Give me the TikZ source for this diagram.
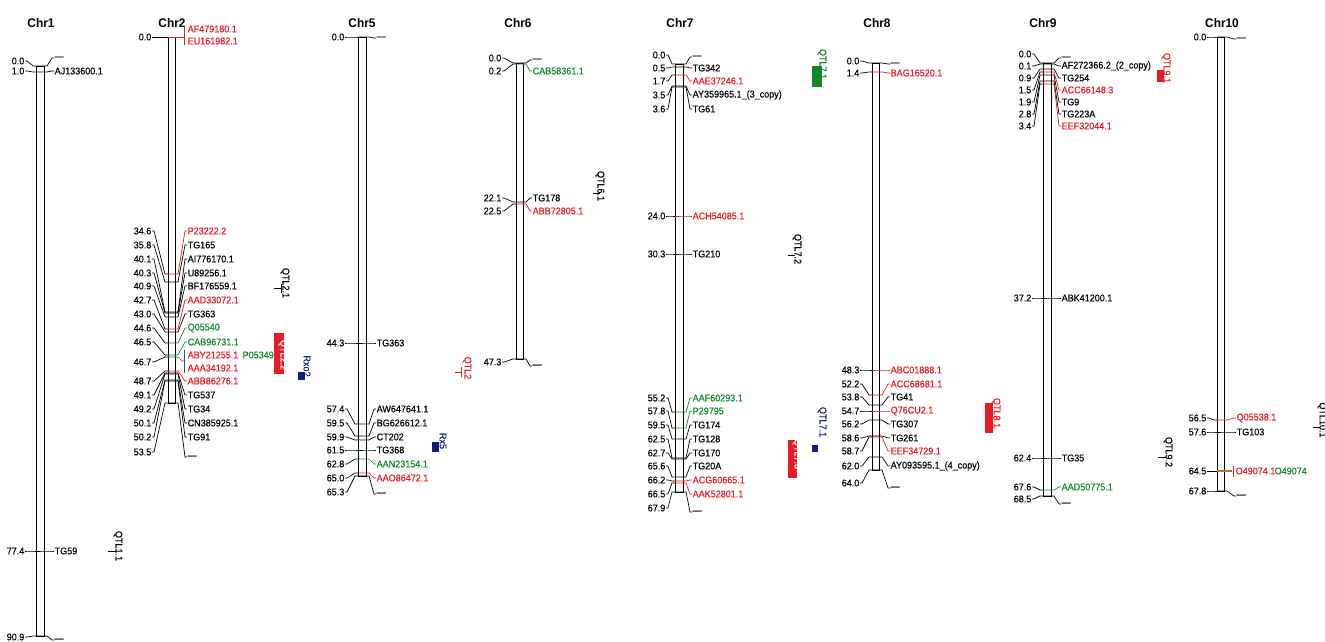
\documentclass[tikz,border=0pt]{standalone}
\usepackage{fontspec}
\setmainfont{Liberation Sans}
\newfontfamily\lblfam{Liberation Sans}[FakeBold=0.35,FakeStretch=0.92]
\newfontfamily\ttlfam{Liberation Sans Bold}[FakeStretch=0.95]
\definecolor{mred}{RGB}{232,28,36}
\definecolor{mgreen}{RGB}{16,135,40}
\definecolor{mblue}{RGB}{20,30,120}
\definecolor{mbrown}{RGB}{180,115,40}
\newcommand\lblfont{\lblfam\fontsize{9.8}{9.8}\selectfont}
\newcommand\mk[7]{%
  \node[posl] (p#1) at (\lx,#2) {#4};
  \node[nm,text=#6] (n#1) at (\nx,#7) {#5};
  \draw[con] (p#1.east) -- ++(2,0) -- (\bl-3,#3) -- (\bl,#3);
  \draw[con,draw=#6] (\bl,#3) -- (\br,#3) -- (\br+3,#3) -- ([xshift=-2pt]n#1.west) -- (n#1.west);
}
\begin{document}
\begin{tikzpicture}[x=1pt,y=-1pt,
  posl/.style={font=\lblfont,inner sep=0.5pt,anchor=east},
  nm/.style={font=\lblfont,inner sep=0.5pt,anchor=west},
  con/.style={line width=0.7pt},
  chrbar/.style={line width=0.9pt},
  ttl/.style={font=\ttlfam\fontsize{12.5}{12.5}\selectfont},
  qtl/.style={rotate=-90,font=\lblfont,inner sep=0.5pt}]
\useasboundingbox[fill=white] (0,0) rectangle (1325,642);

% ---------- Chr1
\node[ttl] (t1) at (41,23) {Chr1};
\def\bl{36}\def\br{44}\def\lx{25}\def\nx{54}
\draw[chrbar] (\bl,66) rectangle (\br,636);
\mk{1a}{61}{66}{0.0}{—}{black}{58}
\mk{1b}{71}{72}{1.0}{AJ133600.1}{black}{71}
\mk{1c}{551}{551}{77.4}{TG59}{black}{551}
\mk{1d}{637}{636}{90.9}{—}{black}{640}
\node[qtl] (q11) at (118,546) {QTL1.1};
\draw[con] (108,551) -- (116,551);

% ---------- Chr2
\node[ttl] (t2) at (172,23) {Chr2};
\def\bl{168}\def\br{175}\def\lx{152}\def\nx{187}
\draw[chrbar] (\bl,37) rectangle (\br,403);
\node[posl] (p2a) at (\lx,37) {0.0};
\node[nm,text=mred] (n2a) at (\nx,29) {AF479180.1};
\node[nm,text=mred] (n2b) at (\nx,41) {EU161982.1};
\draw[con] (p2a.east) -- (\bl,37);
\draw[con,mred] (\bl,37) -- (184,37);
\draw[con,mred] (184,26) -- (184,45);
\mk{2b}{231}{274}{34.6}{P23222.2}{mred}{231}
\mk{2c}{245}{282}{35.8}{TG165}{black}{245}
\mk{2d}{259}{312}{40.1}{AI776170.1}{black}{259}
\mk{2e}{273}{313}{40.3}{U89256.1}{black}{273}
\mk{2f}{286}{317}{40.9}{BF176559.1}{black}{286}
\mk{2g}{300}{329}{42.7}{AAD33072.1}{mred}{300}
\mk{2h}{314}{332}{43.0}{TG363}{black}{314}
\mk{2i}{328}{343}{44.6}{Q05540}{mgreen}{328}
\mk{2j}{342}{355}{46.5}{CAB96731.1}{mgreen}{342}
\node[posl] (p2k) at (\lx,362) {46.7};
\node[nm,text=mred] (n2k) at (\nx,355) {ABY21255.1};
\node[nm,text=mgreen] (n2kb) at (242,355) {P05349};
\node[nm,text=mred] (n2l) at (\nx,368) {AAA34192.1};
\draw[con] (p2k.east) -- ++(2,0) -- (\bl-3,357) -- (\bl,357);
\draw[con,mgreen] (\bl,357) -- (\br,357) -- (\br+3,357) -- (182,361) -- (184,361);
\draw[con,black!70] (184,350) -- (184,373);
\mk{2m}{381}{371}{48.7}{ABB86276.1}{mred}{381}
\mk{2n}{395}{373}{49.1}{TG537}{black}{395}
\mk{2o}{409}{374}{49.2}{TG34}{black}{409}
\mk{2p}{423}{380}{50.1}{CN385925.1}{black}{423}
\mk{2q}{437}{381}{50.2}{TG91}{black}{437}
\mk{2r}{452}{403}{53.5}{—}{black}{457}
\node[qtl] (q21) at (285,283) {QTL2.1};
\draw[con] (274,288) -- (281,288);
\draw[con] (281,284) -- (281,293);
\fill[mred] (274,333) rectangle (284,374);
\node[qtl,text=white] (q22) at (283,355) {QTL2.2};
\fill[mblue] (298,372) rectangle (305,380);
\node[qtl,text=mblue] (rx2) at (307,366) {Rxo?};

% ---------- Chr5
\node[ttl] (t5) at (362,23) {Chr5};
\def\bl{358}\def\br{366}\def\lx{345}\def\nx{376}
\draw[chrbar] (\bl,37) rectangle (\br,476);
\mk{5a}{37}{37}{0.0}{—}{black}{38}
\mk{5b}{343}{343}{44.3}{TG363}{black}{343}
\mk{5c}{409}{424}{57.4}{AW647641.1}{black}{409}
\mk{5d}{423}{436}{59.5}{BG626612.1}{black}{423}
\mk{5e}{437}{440}{59.9}{CT202}{black}{437}
\mk{5f}{450}{450}{61.5}{TG368}{black}{450}
\mk{5g}{464}{459}{62.8}{AAN23154.1}{mgreen}{464}
\mk{5h}{478}{473}{65.0}{AAO86472.1}{mred}{478}
\mk{5i}{492}{476}{65.3}{—}{black}{494}
\node[qtl,text=mred] (q2) at (467,368) {QTL2};
\draw[con,mred] (455,372) -- (461,372);
\draw[con,mred] (461,367) -- (461,377);
\fill[mblue] (432,442) rectangle (439,452);
\node[qtl,text=mblue] (rx5) at (443,441) {Rx5};

% ---------- Chr6
\node[ttl] (t6) at (518,23) {Chr6};
\def\bl{516}\def\br{523}\def\lx{502}\def\nx{532}
\draw[chrbar] (\bl,63) rectangle (\br,359);
\mk{6a}{58}{63}{0.0}{—}{black}{60}
\mk{6b}{71}{64}{0.2}{CAB58361.1}{mgreen}{71}
\mk{6c}{198}{202}{22.1}{TG178}{black}{198}
\mk{6d}{211}{204}{22.5}{ABB72805.1}{mred}{211}
\mk{6e}{362}{359}{47.3}{—}{black}{366}
\node[qtl] (q61) at (600,186) {QTL6.1};
\draw[con] (593,193) -- (600,193);

% ---------- Chr7
\node[ttl] (t7) at (680,23) {Chr7};
\def\bl{675}\def\br{683}\def\lx{666}\def\nx{692}
\draw[chrbar] (\bl,64) rectangle (\br,492);
\mk{7a}{55}{64}{0.0}{—}{black}{57}
\mk{7b}{68}{67}{0.5}{TG342}{black}{68}
\mk{7c}{81}{75}{1.7}{AAE37246.1}{mred}{81}
\mk{7d}{95}{86}{3.5}{AY359965.1\_(3\_copy)}{black}{95}
\mk{7e}{109}{87}{3.6}{TG61}{black}{109}
\mk{7f}{216}{216}{24.0}{ACH54085.1}{mred}{216}
\mk{7g}{254}{254}{30.3}{TG210}{black}{254}
\mk{7h}{398}{412}{55.2}{AAF60293.1}{mgreen}{398}
\mk{7i}{411}{428}{57.8}{P29795}{mgreen}{411}
\mk{7j}{425}{439}{59.5}{TG174}{black}{425}
\mk{7k}{439}{458}{62.5}{TG128}{black}{439}
\mk{7l}{453}{459}{62.7}{TG170}{black}{453}
\mk{7m}{466}{477}{65.6}{TG20A}{black}{466}
\mk{7n}{480}{481}{66.2}{ACG60665.1}{mred}{480}
\mk{7o}{494}{483}{66.5}{AAK52801.1}{mred}{494}
\mk{7p}{508}{492}{67.9}{—}{black}{512}
\fill[mgreen] (812,66) rectangle (822,87);
\node[qtl,text=mgreen] (q71a) at (822,64) {QTL7.1};
\node[qtl] (q72) at (797,249) {QTL7.2};
\draw[con] (788,255) -- (795,255);
\fill[mblue] (812,445) rectangle (818,452);
\node[qtl,text=mblue] (q71b) at (822,422) {QTL7.1};
\fill[mred] (788,440) rectangle (797,478);
\node[qtl,text=white] (q73) at (797,454) {QTL7.3};

% ---------- Chr8
\node[ttl] (t8) at (877,23) {Chr8};
\def\bl{872}\def\br{879}\def\lx{860}\def\nx{890}
\draw[chrbar] (\bl,63) rectangle (\br,470);
\mk{8a}{61}{63}{0.0}{—}{black}{64}
\mk{8b}{73}{72}{1.4}{BAG16520.1}{mred}{73}
\mk{8c}{370}{370}{48.3}{ABC01888.1}{mred}{370}
\mk{8d}{384}{395}{52.2}{ACC68681.1}{mred}{384}
\mk{8e}{397}{405}{53.8}{TG41}{black}{397}
\mk{8f}{411}{411}{54.7}{Q76CU2.1}{mred}{411}
\mk{8g}{424}{420}{56.2}{TG307}{black}{424}
\mk{8h}{438}{436}{58.6}{TG261}{black}{438}
\mk{8i}{451}{437}{58.7}{EEF34729.1}{mred}{451}
\mk{8j}{466}{457}{62.0}{AY093595.1\_(4\_copy)}{black}{466}
\mk{8k}{483}{470}{64.0}{—}{black}{488}
\fill[mred] (985,403) rectangle (993,433);
\node[qtl,text=mred] (q81) at (996,413) {QTL8.1};

% ---------- Chr9
\node[ttl] (t9) at (1043,23) {Chr9};
\def\bl{1043}\def\br{1051}\def\lx{1032}\def\nx{1061}
\draw[chrbar] (\bl,63) rectangle (\br,496);
\mk{9a}{54}{63}{0.0}{—}{black}{58}
\mk{9b}{66}{64}{0.1}{AF272366.2\_(2\_copy)}{black}{66}
\mk{9c}{78}{69}{0.9}{TG254}{black}{78}
\mk{9d}{90}{72}{1.5}{ACC66148.3}{mred}{90}
\mk{9e}{102}{75}{1.9}{TG9}{black}{102}
\mk{9f}{114}{81}{2.8}{TG223A}{black}{114}
\mk{9g}{126}{84}{3.4}{EEF32044.1}{mred}{126}
\mk{9h}{298}{298}{37.2}{ABK41200.1}{black}{298}
\mk{9i}{458}{458}{62.4}{TG35}{black}{458}
\mk{9j}{487}{490}{67.6}{AAD50775.1}{mgreen}{487}
\mk{9k}{499}{496}{68.5}{—}{black}{504}
\fill[mred] (1157,70) rectangle (1164,82);
\node[qtl,text=mred] (q91) at (1166,68) {QTL9.1};
\node[qtl] (q92) at (1168,452) {QTL9.2};
\draw[con] (1158,457) -- (1166,457);

% ---------- Chr10
\node[ttl] (t10) at (1222,23) {Chr10};
\def\bl{1217}\def\br{1224}\def\lx{1207}\def\nx{1236}
\draw[chrbar] (\bl,37) rectangle (\br,491);
\mk{10a}{37}{37}{0.0}{—}{black}{39}
\mk{10b}{418}{420}{56.5}{Q05538.1}{mred}{418}
\mk{10c}{432}{432}{57.6}{TG103}{black}{432}
\node[posl] (p10d) at (\lx,471) {64.5};
\node[nm,text=mred] (n10d) at (1235,471) {O49074.1};
\node[nm,text=mgreen] (n10e) at (1274,471) {O49074};
\draw[con] (p10d.east) -- (\bl,471);
\draw[line width=1.2pt,mbrown] (\bl,471) -- (1232,471);
\draw[con,mred] (1233,466) -- (1233,477);
\mk{10f}{491}{491}{67.8}{—}{black}{496}
\node[qtl] (q101) at (1322,420) {QTL10.1};
\draw[con] (1313,427) -- (1320,427);
\end{tikzpicture}
\end{document}
